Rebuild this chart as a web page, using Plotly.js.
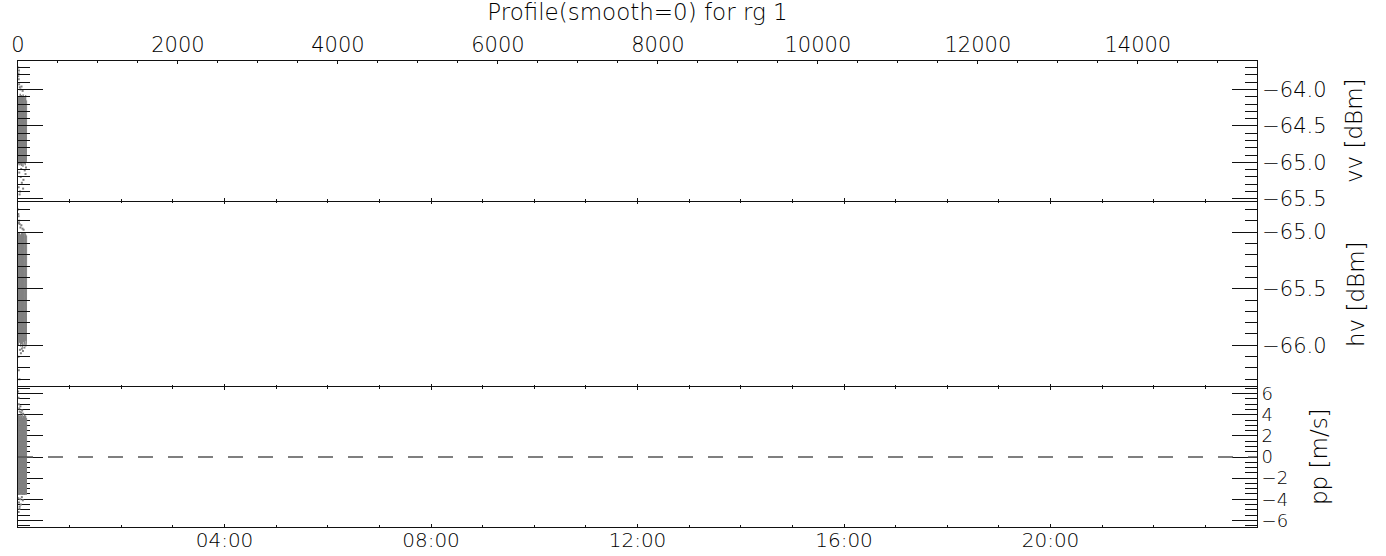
<!DOCTYPE html>
<html>
<head>
<meta charset="utf-8">
<script src="https://cdn.plot.ly/plotly-3.0.1.min.js"></script>
<style>html,body{margin:0;padding:0;background:#fff;}#chart{width:1386px;height:556px;}</style>
</head>
<body>
<div id="chart"></div>
<script>
// ---- data (profile index on top axis) ----
const profCore = [0,2,4,6,8,10,12,14,16,18,20,22,24,26,28,30,32,34,36,38,40,42,44,46,48,50,52,54,56,58,60,62,64,66,68,70,72,74,76,78,80,82,84,86,88,90,92,94,96,98,100,102,104,106,108];

const vvCore = [-64.12,-64.98,-64.20,-65.02,-64.09,-64.91,-64.25,-65.04,-64.15,-64.95,
 -64.10,-65.00,-64.30,-64.88,-64.06,-65.03,-64.18,-64.97,-64.11,-64.92,
 -64.22,-65.05,-64.08,-64.99,-64.14,-64.94,-64.27,-65.01,-64.10,-64.96,
 -64.19,-65.06,-64.07,-64.90,-64.16,-65.00,-64.21,-64.93,-64.09,-65.02,
 -64.13,-64.97,-64.24,-64.89,-64.11,-65.04,-64.17,-64.95,-64.08,-65.01,
 -64.20,-64.92,-64.12,-64.98,-64.15];

const hvCore = [-65.02,-65.95,-65.08,-66.00,-65.01,-65.90,-65.12,-65.98,-65.04,-65.93,
 -65.00,-65.97,-65.15,-65.88,-65.03,-66.01,-65.07,-65.94,-65.02,-65.91,
 -65.10,-65.99,-65.01,-65.96,-65.05,-65.92,-65.13,-66.02,-65.00,-65.95,
 -65.06,-65.89,-65.02,-65.97,-65.09,-65.93,-65.01,-66.00,-65.04,-65.94,
 -65.11,-65.98,-65.03,-65.90,-65.00,-65.96,-65.08,-65.92,-65.02,-66.01,
 -65.05,-65.95,-65.14,-65.97,-65.03];

const ppCore = [3.8,-3.4,3.5,-3.6,4.0,-3.2,3.6,-3.5,3.9,-3.3,
 3.4,-3.6,3.7,-3.1,4.0,-3.5,3.5,-3.4,3.8,-3.6,
 3.3,-3.2,3.9,-3.5,3.6,-3.4,4.0,-3.6,3.5,-3.3,
 3.7,-3.5,3.4,-3.6,3.9,-3.2,3.6,-3.4,3.8,-3.5,
 3.5,-3.6,4.0,-3.3,3.7,-3.4,3.6,-3.5,3.9,-3.6,
 3.4,-3.2,3.8,-3.5,3.7];

const vvOutX = [2,6,10,14,4,22,30,44,58,16,34,48,68,84,94,8,26,40,64,100,12,20];
const vvOutY = [-63.70,-63.78,-63.86,-63.93,-63.82,-63.97,-64.00,-63.96,-64.02,-65.14,-65.20,-65.28,-65.24,-65.11,-65.16,-65.34,-65.40,-65.09,-65.36,-65.07,-63.74,-65.44];

const hvOutX = [2,8,14,20,30,42,56,70,4,12,24,36,48,62,80,6,18,10];
const hvOutY = [-64.80,-64.86,-64.90,-64.93,-64.96,-64.94,-64.97,-64.98,-64.84,-64.92,-66.04,-66.07,-66.03,-66.05,-66.02,-66.10,-66.30,-66.22];

const ppOutX = [2,6,10,16,22,30,40,52,64,4,12,20,28,36,48,60,8,18];
const ppOutY = [6.2,5.6,5.0,4.6,4.3,4.8,4.2,4.4,4.1,-3.9,-4.3,-4.7,-4.0,-4.5,-3.8,-4.1,-5.2,-4.9];

// axis tick labels
const hourTickVals = [4,8,12,16,20];
const hourTickText = ['04:00','08:00','12:00','16:00','20:00'];
const profileMax = 15490;

const titleText = 'Profile(smooth=0) for rg 1';
const yTitles = ['vv [dBm]','hv [dBm]','pp [m/s]'];

// ---- styling ----
const FAM = 'DejaVu Sans';
const FONT = {family:FAM, size:21, color:'#000', weight:200};
const FONT_HOUR = {family:FAM, size:20, color:'#000', weight:200};
const FONT_SMALL = {family:FAM, size:18, color:'#000', weight:200};
const FONT_BIG = {family:FAM, size:23, color:'#000', weight:200};
const GREY = '#808080';
const AX = '#111';

function coreTrace(y, ya){
  return {x: profCore, y: y, xaxis:'x2', yaxis: ya, type:'scatter', mode:'lines',
          line:{color:GREY, width:1}, hoverinfo:'skip', showlegend:false};
}
function outTrace(x, y, ya){
  return {x: x, y: y, xaxis:'x2', yaxis: ya, type:'scatter', mode:'markers',
          marker:{color:GREY, size:2, symbol:'square'}, hoverinfo:'skip', showlegend:false};
}

const data = [
  coreTrace(vvCore,'y'), outTrace(vvOutX, vvOutY,'y'),
  coreTrace(hvCore,'y2'), outTrace(hvOutX, hvOutY,'y2'),
  coreTrace(ppCore,'y3'), outTrace(ppOutX, ppOutY,'y3')
];

const d1 = 140/466, d2 = 326/466;

function hourAxis(anchor, labels, showline, mirror){
  return {
    domain:[0,1], anchor: anchor, range:[0,24], showgrid:false, zeroline:false,
    showline:showline, linecolor:AX, linewidth:1, mirror: mirror,
    ticks:'inside', ticklen:3, tickwidth:1, tickcolor:AX,
    tickmode:'array', tickvals: hourTickVals, ticktext: hourTickText,
    showticklabels: labels, tickfont: FONT_HOUR, ticklabelstandoff: -5,
    minor:{tickmode:'linear', tick0:0, dtick:1, ticks:'inside', ticklen:2, tickcolor:AX, showgrid:false}
  };
}
function yAxis(domain, range, dtick, tick0, mdtick, font){
  return {
    domain: domain, anchor:'x', side:'right', range: range, showgrid:false, zeroline:false,
    showline:true, linecolor:AX, linewidth:1, mirror:'ticks',
    ticks:'inside', ticklen:25, tickwidth:1, tickcolor:AX,
    tickmode:'linear', tick0: tick0, dtick: dtick, tickformat: dtick < 1 ? '.1f' : 'd',
    tickfont: font,
    minor:{tickmode:'linear', tick0: tick0, dtick: mdtick, ticks:'inside', ticklen:12, tickcolor:AX, showgrid:false}
  };
}

const layout = {
  width:1386, height:556,
  margin:{l:18, r:129, t:61, b:29, pad:0},
  paper_bgcolor:'#fff', plot_bgcolor:'rgba(0,0,0,0)',
  showlegend:false,
  font: FONT,
  title:{text:titleText, font:FONT_BIG, x:0.5, xref:'paper', xanchor:'center', y:1-4/556, yref:'container', yanchor:'top'},
  xaxis: hourAxis('y3', true, true, 'ticks'),
  xaxis3: Object.assign(hourAxis('y2', false, false, 'ticks'), {matches:'x'}),
  xaxis4: Object.assign(hourAxis('y', false, true, false), {matches:'x'}),
  xaxis2: {
    domain:[0,1], anchor:'y', side:'top', range:[0, profileMax], showgrid:false, zeroline:false,
    showline:true, linecolor:AX, linewidth:1,
    ticks:'inside', ticklen:3, tickwidth:1, tickcolor:AX,
    tickmode:'linear', tick0:0, dtick:2000, tickformat:'d', tickfont: FONT,
    minor:{tickmode:'linear', tick0:0, dtick:500, ticks:'inside', ticklen:2, tickcolor:AX, showgrid:false}
  },
  yaxis: yAxis([d2,1], [-65.53,-63.61], 0.5, -64, 0.1, FONT),
  yaxis2: yAxis([d1,d2], [-66.368,-64.726], 0.5, -65, 0.1, FONT),
  yaxis3: yAxis([0,d1], [-6.63,6.63], 2, 0, 0.5, FONT_SMALL),
  shapes:[{type:'line', xref:'x domain', yref:'y3', x0:0, x1:1, y0:0, y1:0,
           line:{color:'#555', width:1.5, dash:'15px,15px'}}],
  annotations:[
    {text:yTitles[0], xref:'paper', yref:'paper', x:(1354-18)/1239, y:(d2+1)/2, textangle:-90, showarrow:false, font:FONT_BIG, xanchor:'center', yanchor:'middle'},
    {text:yTitles[1], xref:'paper', yref:'paper', x:(1356-18)/1239, y:(d1+d2)/2, textangle:-90, showarrow:false, font:FONT_BIG, xanchor:'center', yanchor:'middle'},
    {text:yTitles[2], xref:'paper', yref:'paper', x:(1319-18)/1239, y:d1/2, textangle:-90, showarrow:false, font:FONT_BIG, xanchor:'center', yanchor:'middle'}
  ]
};

// invisible traces to instantiate the hour axes on each panel
data.push({x:[0], y:[null], xaxis:'x3', yaxis:'y2', type:'scatter', mode:'markers', showlegend:false, hoverinfo:'skip'});
data.push({x:[0], y:[null], xaxis:'x4', yaxis:'y', type:'scatter', mode:'markers', showlegend:false, hoverinfo:'skip'});
data.push({x:[0], y:[null], xaxis:'x', yaxis:'y3', type:'scatter', mode:'markers', showlegend:false, hoverinfo:'skip'});

Plotly.newPlot('chart', data, layout, {staticPlot:true, displayModeBar:false});
</script>
</body>
</html>
